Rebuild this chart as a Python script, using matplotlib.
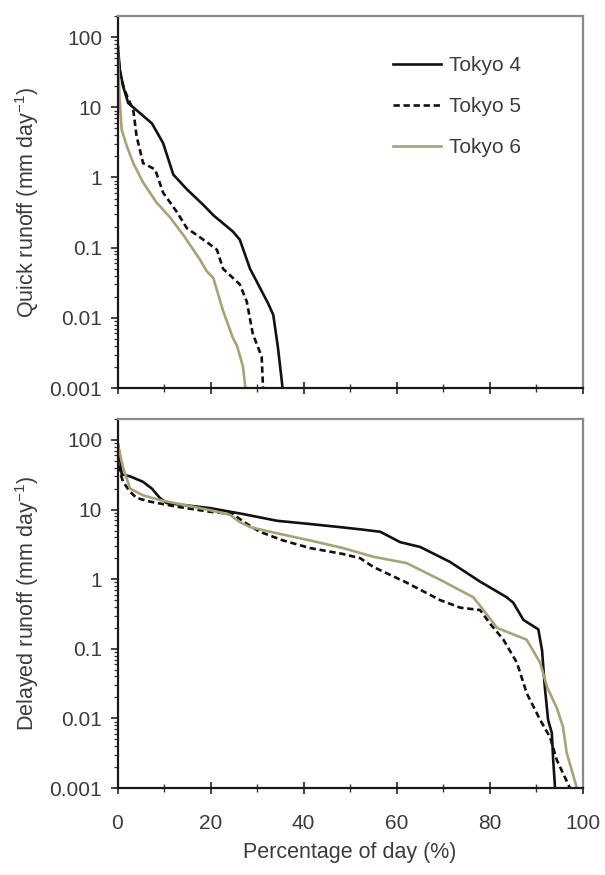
import matplotlib
matplotlib.use("Agg")
import matplotlib.pyplot as plt
from matplotlib.ticker import FixedLocator, LogLocator, NullFormatter, FixedFormatter

plt.rcParams["font.family"] = ["Liberation Sans", "DejaVu Sans"]
plt.rcParams["mathtext.fontset"] = "custom"
plt.rcParams["mathtext.rm"] = "Liberation Sans"
plt.rcParams["mathtext.it"] = "Liberation Sans:italic"

# Flow duration curves: percentage of days exceeded vs runoff (mm/day)
series_names = ["Tokyo 4", "Tokyo 5", "Tokyo 6"]

# Quick runoff
quick_t4_x = [0, 0.5, 1.2, 2.3, 4.8, 7.4, 9.8, 12.0, 14.9, 18.4, 20.6, 24.8, 26.3, 28.5, 29.1, 32.4, 33.5, 34.5, 35.5]
quick_t4_y = [85, 35, 20, 11.5, 8.3, 5.9, 3.1, 1.1, 0.68, 0.41, 0.29, 0.17, 0.13, 0.05, 0.042, 0.016, 0.011, 0.0038, 0.001]

quick_t5_x = [0, 0.5, 1.6, 3.4, 4.1, 5.5, 8.1, 9.8, 12.8, 14.9, 19.2, 21.4, 22.7, 26.3, 27.8, 29.1, 31.0, 31.3]
quick_t5_y = [85, 30, 17, 9.1, 3.9, 1.6, 1.3, 0.61, 0.32, 0.19, 0.12, 0.093, 0.05, 0.03, 0.017, 0.0059, 0.0028, 0.001]

quick_t6_x = [0, 0.4, 0.9, 2.0, 3.4, 5.5, 8.4, 11.3, 14.2, 17.7, 19.2, 20.6, 22.7, 24.8, 25.7, 27.0, 27.5]
quick_t6_y = [100, 15, 4.8, 2.8, 1.6, 0.85, 0.44, 0.27, 0.15, 0.068, 0.046, 0.037, 0.0126, 0.0052, 0.004, 0.002, 0.001]

# Delayed runoff
delayed_t4_x = [0, 0.5, 0.9, 2.7, 5.5, 7.4, 9.1, 10.6, 19.9, 27.1, 34.3, 41.4, 47.8, 52.2, 56.5, 60.8, 65.1,
                71.5, 78.0, 83.7, 85.1, 87.3, 90.5, 91.3, 91.9, 92.6, 93.4, 93.7, 94.1]
delayed_t4_y = [95, 60, 32, 30, 25, 20, 14.7, 12.4, 10.5, 8.6, 6.9, 6.2, 5.6, 5.2, 4.8, 3.4, 2.9,
                1.77, 0.92, 0.55, 0.46, 0.26, 0.19, 0.095, 0.028, 0.0095, 0.0062, 0.0025, 0.001]

delayed_t5_x = [0, 0.5, 1.2, 2.7, 4.1, 7.0, 12.7, 19.9, 24.8, 27.1, 30.6, 35.6, 41.4, 48.5, 52.2, 55.0,
                62.2, 69.4, 73.7, 78.0, 80.1, 83.0, 85.9, 88.0, 90.9, 93.0, 94.5, 97.3]
delayed_t5_y = [60, 35, 25, 18, 14.7, 13, 11, 9.3, 8.6, 6.7, 4.8, 3.6, 2.8, 2.3, 2.0, 1.5,
                0.89, 0.5, 0.39, 0.36, 0.23, 0.135, 0.063, 0.023, 0.0095, 0.0054, 0.0025, 0.001]

delayed_t6_x = [0, 0.6, 1.2, 2.7, 5.5, 9.1, 19.9, 24.2, 26.3, 28.5, 32.8, 41.4, 48.5, 55.0, 62.2, 69.4,
                76.5, 78.7, 81.6, 88.0, 90.9, 92.4, 94.5, 95.8, 96.6, 98.8]
delayed_t6_y = [90, 60, 40, 20, 16, 13.7, 9.8, 8.4, 6.6, 5.6, 4.8, 3.6, 2.8, 2.1, 1.7, 0.98,
                0.55, 0.36, 0.2, 0.135, 0.063, 0.028, 0.014, 0.0076, 0.0032, 0.001]

y_ticks = [0.001, 0.01, 0.1, 1, 10, 100]
y_tick_labels = ["0.001", "0.01", "0.1", "1", "10", "100"]
x_major = [0, 20, 40, 60, 80, 100]
x_minor = [10, 30, 50, 70, 90]

styles = [
    dict(color="#111111", lw=1.9, ls="-"),
    dict(color="#111111", lw=1.9, ls=(0, (2.4, 1.4))),
    dict(color="#aaa276", lw=1.9, ls="-"),
]

W, H = 605, 875
fig = plt.figure(figsize=(W / 100, H / 100), dpi=100)


def px_axes(left, top, right, bottom):
    return fig.add_axes([left / W, 1 - bottom / H, (right - left) / W, (bottom - top) / H])


ax1 = px_axes(117.5, 16, 582.5, 388)
ax2 = px_axes(117.5, 419, 582.5, 788)

text_color = "#3c3c3c"
fs = 15
fs_label = 15.5

panels = [
    (ax1, [(quick_t4_x, quick_t4_y), (quick_t5_x, quick_t5_y), (quick_t6_x, quick_t6_y)],
     "Quick runoff (mm day$^{-1}$)"),
    (ax2, [(delayed_t4_x, delayed_t4_y), (delayed_t5_x, delayed_t5_y), (delayed_t6_x, delayed_t6_y)],
     "Delayed runoff (mm day$^{-1}$)"),
]

for ax, data, ylabel in panels:
    for (xs, ys), name, st in zip(data, series_names, styles):
        ax.plot(xs, ys, label=name, solid_joinstyle="round", **st)
    ax.set_yscale("log")
    ax.set_ylim(0.001, 200)
    ax.set_xlim(0, 100)
    ax.yaxis.set_major_locator(FixedLocator(y_ticks))
    ax.yaxis.set_major_formatter(FixedFormatter(y_tick_labels))
    ax.yaxis.set_minor_locator(LogLocator(base=10, subs=range(2, 10), numticks=20))
    ax.yaxis.set_minor_formatter(NullFormatter())
    ax.xaxis.set_major_locator(FixedLocator(x_major))
    ax.xaxis.set_minor_locator(FixedLocator(x_minor))
    ax.tick_params(axis="y", which="major", direction="out", length=5, width=1.2,
                   colors="#222222", labelcolor=text_color, labelsize=fs, pad=6)
    ax.tick_params(axis="y", which="minor", direction="out", length=3, width=0.9, colors="#333333")
    ax.tick_params(axis="x", which="major", direction="inout", length=9, width=1.2,
                   colors="#222222", labelcolor=text_color, labelsize=fs, pad=14.5)
    ax.tick_params(axis="x", which="minor", direction="inout", length=6, width=1.0, colors="#333333")
    for side in ("left", "bottom"):
        ax.spines[side].set_color("#1a1a1a")
        ax.spines[side].set_linewidth(1.6)
    for side in ("top", "right"):
        ax.spines[side].set_color("#8a8a8a")
        ax.spines[side].set_linewidth(1.6)
    ax.set_ylabel(ylabel, fontsize=fs_label, color=text_color)
    ax.yaxis.set_label_coords(-0.165, 0.5)

ax1.tick_params(axis="x", which="both", labelbottom=False)

ax2.set_xlabel("Percentage of day (%)", fontsize=fs_label, color=text_color, labelpad=6)

leg = ax1.legend(loc="upper left", bbox_to_anchor=(0.592, 0.893), frameon=False,
                 fontsize=fs, handlelength=2.33, handletextpad=0.38, labelspacing=1.07,
                 borderpad=0, borderaxespad=0)
for t in leg.get_texts():
    t.set_color(text_color)

fig.savefig("out.png", dpi=100)
